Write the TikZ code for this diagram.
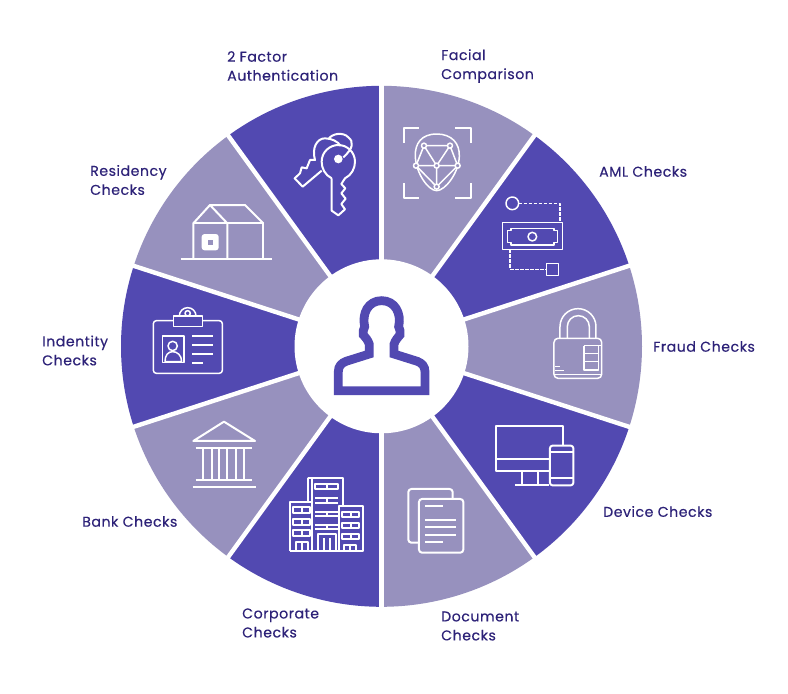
\documentclass[tikz,border=0pt]{standalone}
\usepackage{fontspec}
\setmainfont[FakeBold=0.25,LetterSpace=3.5]{Poppins}
\definecolor{darkp}{HTML}{5249B1}
\definecolor{lightp}{HTML}{9791BE}
\definecolor{txt}{HTML}{2D2278}
\tikzset{
  sector/.style={line width=0pt},
  sep/.style={white,line width=4.4pt},
  lab/.style={text=txt,font=\fontsize{14.2}{19}\selectfont,align=left,anchor=west,inner sep=0pt},
  ico/.style={draw=white,line width=2pt,line join=round,fill=none},
  thin/.style={line width=1.5pt},
  zoomA/.style={shift={(280,110)},x=0.3333pt,y=-0.3333pt},
  zoomB/.style={shift={(480,180)},x=0.3333pt,y=-0.3333pt},
  zoomC/.style={shift={(280,410)},x=0.3333pt,y=-0.3333pt},
  zoomD/.style={shift={(140,200)},x=0.3333pt,y=-0.3333pt},
  zoomE/.style={shift={(310,280)},x=0.3333pt,y=-0.3333pt},
}
\begin{document}
\begin{tikzpicture}[x=1pt,y=-1pt]
\useasboundingbox (0,0) rectangle (788,694);
\fill[white] (0,0) rectangle (788,694);
% sectors
\foreach \i in {0,...,9}{
  \pgfmathsetmacro{\a}{90-36*\i}
  \pgfmathsetmacro{\b}{54-36*\i}
  \pgfmathtruncatemacro{\m}{mod(\i,2)}
  \ifnum\m=0 \def\c{lightp}\else\def\c{darkp}\fi
  \fill[\c,sector] (381.5,346.3) -- ++({260.5*cos(\a)},{-260.5*sin(\a)})
     arc[start angle={-\a},end angle={-\b},radius=260.5] -- cycle;
}
\foreach \i in {0,...,9}{
  \pgfmathsetmacro{\a}{90-36*\i}
  \draw[sep] (381.3,346.3) -- ++({264*cos(\a)},{-264*sin(\a)});
}
\fill[white] (381.5,346.3) circle[radius=87];
% person
\begin{scope}[zoomE]
\draw[darkp,line width=8.8pt,miter limit=4]
 (85,332) -- (345,332) -- (345,275) .. controls (345,258) and (335,249) .. (322,244) -- (252,222) -- (252,193)
 .. controls (256,180) and (264,172) .. (270,165) .. controls (272,155) and (270,150) .. (266,140)
 .. controls (275,100) and (255,62) .. (215,62)
 .. controls (175,62) and (155,100) .. (164,140) .. controls (160,150) and (158,155) .. (160,165)
 .. controls (166,172) and (174,180) .. (178,193) -- (178,222) -- (108,244)
 .. controls (95,249) and (85,258) .. (85,275) -- cycle;
\end{scope}
% keys
\begin{scope}[zoomA]
\draw[ico] (155,205) -- (155,302) -- (175,316) -- (195,298) -- (184,282) -- (197,266) -- (184,250) -- (196,235) -- (184,222) -- (195,205)
  .. controls (215,195) and (225,175) .. (225,155) .. controls (225,125) and (200,105) .. (175,105) .. controls (150,105) and (125,125) .. (125,155) .. controls (125,175) and (135,195) .. (155,205);
\draw[ico] (125,182) -- (68,230) -- (44,205) -- (60,190) -- (65,172) -- (80,175) -- (90,150) -- (105,150) .. controls (95,115) and (110,85) .. (135,85) .. controls (155,85) and (175,95) .. (182,108);
\draw[ico] (145,88) .. controls (155,70) and (190,65) .. (205,82) .. controls (222,95) and (220,115) .. (190,142);
\fill[white] (175,147) circle[radius=13];
% face
\draw[ico] (372,98) -- (372,55) -- (418,55);
\draw[ico] (525,55) -- (572,55) -- (572,100);
\draw[ico] (372,220) -- (372,265) -- (418,265);
\draw[ico] (525,265) -- (572,265) -- (572,220);
\draw[ico,thin] (470,72) .. controls (425,72) and (404,100) .. (406,140) .. controls (408,190) and (445,242) .. (470,242) .. controls (495,242) and (536,190) .. (538,140) .. controls (540,100) and (515,72) .. (470,72) -- cycle;
\draw[ico,thin] (432,107) -- (510,107) -- (533,167) -- (470,167) -- (408,167) -- (432,107) -- (470,167) -- (510,107)
 (408,167) -- (470,230) -- (533,167) (470,167) -- (470,230);
\foreach \p in {(432,107),(510,107),(408,167),(470,167),(533,167),(470,230)} \draw[ico,thin,fill=lightp] \p circle[radius=7.5];
\end{scope}
% AML
\begin{scope}[zoomB]
\draw[ico,thin] (97,70) circle[radius=19];
\draw[ico,thin,dash pattern=on 3.5pt off 1.5pt] (116,70) -- (240,70) -- (240,128);
\draw[ico,thin] (68,128) rectangle (248,208);
\draw[ico,thin] (93,145) -- (222,145) -- (222,152) -- (233,152) -- (233,188) -- (222,188) -- (222,195) -- (93,195) -- (93,188) -- (82,188) -- (82,152) -- (93,152) -- cycle;
\draw[ico,thin] (157,170) circle[radius=13];
\draw[ico,thin,dash pattern=on 3.5pt off 1.5pt] (90,208) -- (90,268) -- (200,268);
\draw[ico,thin] (200,250) rectangle (236,286);
% lock
\draw[ico,thin] (240,475) -- (240,440) arc[start angle=-180,end angle=0,radius=54] -- (348,475);
\draw[ico,thin] (262,475) -- (262,440) arc[start angle=-180,end angle=0,radius=33] -- (328,475);
\draw[ico,thin,rounded corners=4pt] (222,475) rectangle (365,595);
\draw[ico,thin] (222,583) -- (365,583);
\draw[ico,thin] (312,497) -- (365,497) (312,497) -- (312,570) -- (355,570) -- (355,497) (312,520) -- (355,520) (312,545) -- (355,545);
\draw[ico,thin] (225,560) -- (240,560) (225,572) -- (252,572);
\end{scope}
% device, document, building
\begin{scope}[zoomC]
\draw[ico] (850,105) -- (850,47) -- (648,47) -- (648,182) -- (808,182);
\draw[ico] (648,148) -- (808,148);
\draw[ico] (727,182) -- (727,224) (773,182) -- (773,224) (705,224) -- (808,224);
\draw[ico,rounded corners=2.5pt] (810,107) rectangle (880,226);
\draw[ico] (810,126) -- (880,126) (810,205) -- (880,205);
% document
\draw[ico,rounded corners=3pt] (415,398) -- (385,398) -- (385,237) -- (518,237) -- (518,267);
\draw[ico,rounded corners=3pt] (417,267) rectangle (550,428);
\draw[ico] (435,289) -- (490,289) (435,330) -- (528,330) (435,352) -- (528,352) (435,375) -- (528,375) (435,395) -- (490,395);
% building
\draw[ico] (97,277) -- (97,205) -- (85,205) -- (190,205) -- (190,287);
\draw[ico] (30,422) -- (30,277) -- (97,277) -- (97,422);
\draw[ico] (178,422) -- (178,287) -- (248,287) -- (248,422) -- cycle;
\draw[ico] (30,422) -- (248,422);
\draw[ico] (85,205) -- (85,277);
\draw[ico] (105,222) rectangle (175,238) (140,222) -- (140,238);
\draw[ico] (105,265) -- (175,265) (105,278) -- (175,278) (140,265) -- (140,278);
\draw[ico] (105,305) -- (178,305) (105,318) -- (178,318) (140,305) -- (140,318);
\draw[ico] (105,345) -- (178,345) (105,358) -- (178,358) (140,345) -- (140,358);
\draw[ico] (115,422) -- (115,372) -- (168,372) -- (168,422) (133,385) -- (133,422) (150,385) -- (150,422);
\draw[ico] (48,422) -- (48,395) -- (85,395) -- (85,422) (66,395) -- (66,422);
\draw[ico] (192,422) -- (192,405) -- (228,405) -- (228,422) (210,405) -- (210,422);
\foreach \y in {292,326,360} \draw[ico] (40,\y) rectangle (90,\y+18) (65,\y) -- (65,\y+18);
\foreach \y in {305,338,371} \draw[ico] (187,\y) rectangle (237,\y+17) (212,\y) -- (212,\y+17);
\end{scope}
% house, id, bank
\begin{scope}[zoomD]
\draw[ico] (122,178) -- (397,178);
\draw[ico] (160,178) -- (160,70) -- (210,15) -- (262,70) -- (262,178);
\draw[ico] (160,70) -- (368,70) -- (368,178);
\draw[ico] (210,15) -- (315,15) -- (370,70);
\draw[ico,rounded corners=2pt] (188,105) rectangle (233,148);
\fill[white] (188,105) rectangle (233,148);
\fill[lightp] (203,119) rectangle (218,134);
% id
\draw[ico,thin,rounded corners=3pt] (40,362) rectangle (247,520);
\draw[ico,thin,fill=darkp] (118,348) arc[start angle=-180,end angle=0,radius=25];
\draw[ico,thin,fill=darkp] (100,380) rectangle (187,348);
\draw[ico,thin] (143,340) circle[radius=8];
\draw[ico,thin] (68,408) rectangle (132,488);
\draw[ico,thin] (98,438) circle[radius=14];
\draw[ico,thin] (75,485) .. controls (75,465) and (85,455) .. (98,455) .. controls (111,455) and (125,465) .. (125,485) -- cycle;
\draw[ico] (157,408) -- (218,408) (157,435) -- (218,435) (157,461) -- (218,461) (157,488) -- (190,488);
% bank
\draw[ico] (252,665) -- (345,723) -- (160,723) -- cycle;
\draw[ico] (167,745) -- (335,745) (167,840) -- (335,840) (158,860) -- (347,860);
\foreach \x in {190,215,238,262,288,312} \draw[ico] (\x,745) -- (\x,840);
\end{scope}
% labels
\node[lab] (twofa) at (227,66) {2 Factor\\Authentication};
\node[lab] (facial) at (441,66) {Facial\\Comparison};
\node[lab] (aml) at (599,171.5) {AML Checks};
\node[lab] (fraud) at (653,346.5) {Fraud Checks};
\node[lab] (device) at (603,511.5) {Device Checks};
\node[lab] (document) at (441,626) {Document\\Checks};
\node[lab] (corporate) at (242,623) {Corporate\\Checks};
\node[lab] (bank) at (82,521.5) {Bank Checks};
\node[lab] (identity) at (42,350.5) {Indentity\\Checks};
\node[lab] (residency) at (90,180) {Residency\\Checks};
\end{tikzpicture}
\end{document}
